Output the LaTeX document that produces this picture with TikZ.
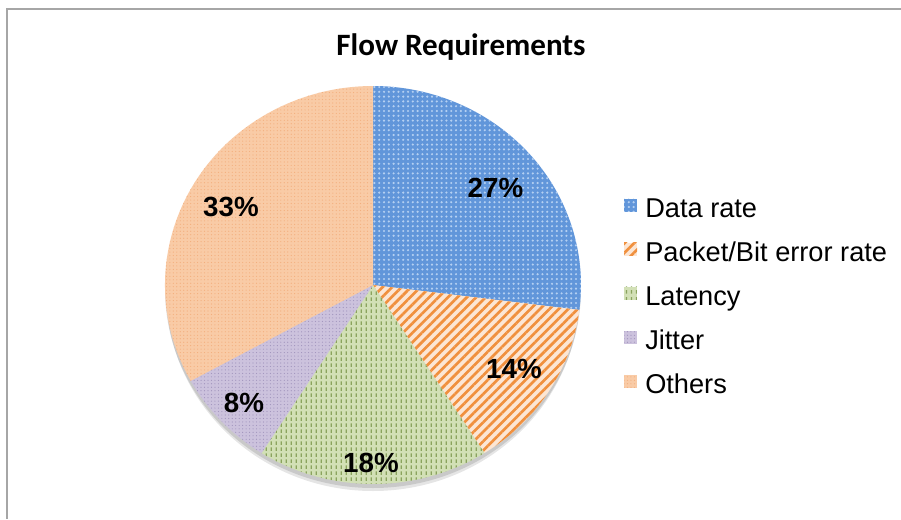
\documentclass[tikz,border=0pt]{standalone}
\usepackage{fontspec}
\setmainfont{Liberation Sans}
\newfontfamily\titlefont{Carlito}
\usetikzlibrary{patterns,patterns.meta}

\definecolor{blueb}{HTML}{6196DA}
\definecolor{bluep}{HTML}{B4D0F2}
\definecolor{orb}{HTML}{FCE6D4}
\definecolor{orp}{HTML}{F0903E}
\definecolor{grb}{HTML}{D2E0B6}
\definecolor{grp}{HTML}{8AA35E}
\definecolor{pub}{HTML}{CCC2DD}
\definecolor{pup}{HTML}{A093BC}
\definecolor{peb}{HTML}{F9CBA6}
\definecolor{pep}{HTML}{F3AE7C}
\definecolor{framec}{HTML}{A6A6A6}

\tikzdeclarepattern{
  name=vdashes,
  type=uncolored,
  bounding box={(0pt,0pt) and (3.6pt,4.8pt)},
  tile size={(3.6pt,4.8pt)},
  code={
    \draw[line width=0.9pt] (1.8pt,1pt) -- (1.8pt,3.8pt);
  }
}

\tikzset{
  datarate/.style={fill=blueb, postaction={pattern={Dots[distance=3.6pt,radius=0.9pt]}, pattern color=bluep}},
  packet/.style={fill=orb, postaction={pattern={Lines[angle=45,distance=5pt,line width=2pt]}, pattern color=orp}},
  latency/.style={fill=grb, postaction={pattern=vdashes, pattern color=grp}},
  jitter/.style={fill=pub, postaction={pattern={Dots[distance=2.6pt,radius=0.45pt]}, pattern color=pup}},
  others/.style={fill=peb, postaction={pattern={Dots[distance=2.6pt,radius=0.45pt]}, pattern color=pep}},
  legbox/.style={minimum size=9.75pt, inner sep=0pt, outer sep=0pt},
  legtext/.style={anchor=base west, inner sep=0pt, font=\fontsize{20.4}{24}\selectfont},
  pct/.style={anchor=base, inner sep=0pt, font=\bfseries\fontsize{20.8}{24}\selectfont},
}

\begin{document}
\begin{tikzpicture}[x=0.75pt, y=0.75pt]
\useasboundingbox (0,0) rectangle (901,-519);
\fill[white] (0,0) rectangle (901,-519);
\coordinate (fr1) at (901,-8.5);
\coordinate (fr2) at (7,-8.5);
\coordinate (fr3) at (7,-519);
\draw[framec, line width=1.5pt] (fr1) -- (fr2) -- (fr3);

% title
\node[anchor=base, inner sep=0pt, font=\titlefont\bfseries\fontsize{23.3}{28}\selectfont] (title) at (461,-55) {Flow Requirements};

% shadow
\fill[black, opacity=0.10] (373,-292) ellipse [x radius=207, y radius=199];
\fill[black, opacity=0.12] (373,-289) ellipse [x radius=208, y radius=199];

% pie
\coordinate (c) at (373,-285);
\path[datarate] (c) -- ++(90:208 and 199) arc[start angle=90, end angle=-7.2, x radius=208, y radius=199] -- cycle;
\path[packet] (c) -- ++(-7.2:208 and 199) arc[start angle=-7.2, end angle=-57.6, x radius=208, y radius=199] -- cycle;
\path[latency] (c) -- ++(-57.6:208 and 199) arc[start angle=-57.6, end angle=-122.4, x radius=208, y radius=199] -- cycle;
\path[jitter] (c) -- ++(-122.4:208 and 199) arc[start angle=-122.4, end angle=-151.2, x radius=208, y radius=199] -- cycle;
\path[others] (c) -- ++(-151.2:208 and 199) arc[start angle=-151.2, end angle=-270, x radius=208, y radius=199] -- cycle;

% percentages
\node[pct] (p1) at (495.5,-197) {27\%};
\node[pct] (p2) at (514,-378) {14\%};
\node[pct] (p3) at (371,-472) {18\%};
\node[pct] (p4) at (244,-412) {8\%};
\node[pct] (p5) at (231,-216) {33\%};

% legend
\node[legbox, datarate] (k1) at (630.5,-205) {};
\node[legbox, packet]   (k2) at (630.5,-249) {};
\node[legbox, latency]  (k3) at (630.5,-293) {};
\node[legbox, jitter]   (k4) at (630.5,-337) {};
\node[legbox, others]   (k5) at (630.5,-381) {};
\node[legtext] (l1) at (645,-217.7) {Data rate};
\node[legtext] (l2) at (645,-261.7) {Packet/Bit error rate};
\node[legtext] (l3) at (645,-305.7) {Latency};
\node[legtext] (l4) at (645,-349.7) {Jitter};
\node[legtext] (l5) at (645,-393.7) {Others};
\end{tikzpicture}
\end{document}
